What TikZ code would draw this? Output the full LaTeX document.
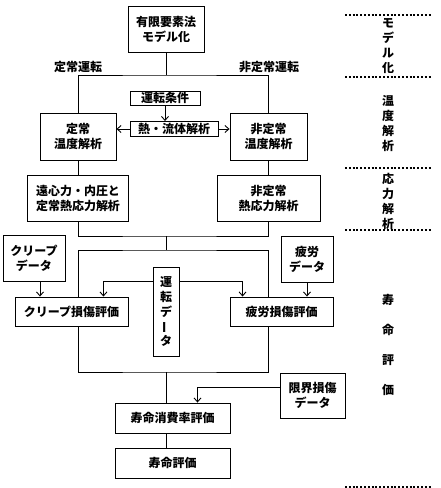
\documentclass[tikz,border=0pt]{standalone}
\usepackage{fontspec}
\setmainfont{Noto Sans CJK JP}
\usetikzlibrary{arrows.meta}

\newcommand{\boxfont}{\fontsize{12}{15}\selectfont\bfseries}
\newcommand{\tallfont}{\fontsize{12}{14.75}\selectfont\bfseries}
\newcommand{\wideskip}{\fontsize{12}{30}\selectfont\bfseries}

\begin{document}
\begin{tikzpicture}[x=1pt, y=-1pt, line width=0.9pt,
    box/.style={draw, inner sep=0pt, align=center, font=\boxfont},
    lbl/.style={inner sep=0pt, align=center, font=\boxfont},
    flow/.style={-{Straight Barb[length=4pt, width=7pt]}},
    sep/.style={dash pattern=on 2pt off 1.8pt, line width=1.3pt}]
    \useasboundingbox (0,0) rectangle (441,488);

    % Modelling
    \node[box, minimum width=76pt, minimum height=46pt] (model) at (166,29) {有限要素法\\モデル化};
    \node[lbl] (steadyLbl) at (78,67) {定常運転};
    \node[lbl] (transLbl) at (269,67) {非定常運転};

    % Temperature analysis
    \node[box, minimum width=76pt, minimum height=47pt] (steadyT) at (78,136.5) {定常\\温度解析};
    \node[box, minimum width=77pt, minimum height=47pt] (transT) at (268.5,136.5) {非定常\\温度解析};
    \node[box, minimum width=70pt, minimum height=14pt] (cond) at (165,98) {運転条件};
    \node[box, minimum width=88pt, minimum height=15pt] (fluid) at (174,129) {熱・流体解析};

    \coordinate (split) at (166,75);
    \draw (model.south) -- (split);
    \draw (steadyT.north) |- (split) -| (transT.north);
    \draw[flow] (cond.south) -- (cond.south |- fluid.north);
    \draw[flow] (fluid.west) -- (fluid.west -| steadyT.east);
    \draw[flow] (fluid.east) -- (fluid.east -| transT.west);

    % Stress analysis
    \node[box, minimum width=101pt, minimum height=46pt] (steadyS) at (78,198) {遠心力・内圧と\\定常熱応力解析};
    \node[box, minimum width=103pt, minimum height=46pt] (transS) at (268.5,198) {非定常\\熱応力解析};
    \draw (steadyT.south) -- (steadyS.north);
    \draw (transT.south) -- (transS.north);

    % Damage evaluation
    \node[box, minimum width=62pt, minimum height=46pt] (creepD) at (34,258) {クリープ\\データ};
    \node[box, minimum width=52pt, minimum height=46pt] (fatD) at (307,259) {疲労\\データ};
    \node[box, minimum width=113pt, minimum height=29pt] (creepE) at (71.5,311.5) {クリープ損傷評価};
    \node[box, minimum width=103pt, minimum height=29pt] (fatE) at (281.5,311.5) {疲労損傷評価};
    \node[box, minimum width=26pt, minimum height=89pt, font=\tallfont] (opD) at (166,311.5)
        {運\\転\\デ\\\rotatebox[origin=c]{90}{ー}\\タ};

    \coordinate (merge) at (166,236);
    \coordinate (fork) at (166,250);
    \draw (steadyS.south) |- (merge) -| (transS.south);
    \draw (merge) -- (fork);
    \draw (steadyS.south |- creepE.north) |- (fork) -| (transS.south |- fatE.north);
    \draw[flow] ([xshift=6pt]creepD.south) -- ([xshift=6pt]creepD.south |- creepE.north);
    \draw[flow] (fatD.south) -- (fatD.south |- fatE.north);
    \draw[flow] ([yshift=-15pt]opD.north west) -| ([xshift=-25pt]creepE.north east);
    \draw[flow] ([yshift=-15pt]opD.north east) -| ([xshift=13pt]fatE.north west);

    % Life evaluation
    \node[box, minimum width=115pt, minimum height=30pt] (rate) at (172.5,418) {寿命消費率評価};
    \node[box, minimum width=115pt, minimum height=30pt] (life) at (172.5,463) {寿命評価};
    \node[box, minimum width=65pt, minimum height=45pt] (limit) at (312.5,395.5) {限界損傷\\データ};

    \coordinate (join) at (166,372);
    \draw (steadyS.south |- creepE.south) |- (join) -| (transS.south |- fatE.south);
    \draw (join) -- (join |- rate.north);
    \draw (join |- rate.south) -- (join |- life.north);
    \draw[flow] ([yshift=-15pt]limit.north west) -| ([xshift=25pt]rate.north);

    % Phase column
    \foreach \y in {15,77,168,230,487}
        \draw[sep] (345,\y) -- (432,\y);
    \node[lbl] (phModel) at (388,46) {モ\\デ\\ル\\化};
    \node[lbl] (phTemp) at (388,123.5) {温\\度\\解\\析};
    \node[lbl] (phStress) at (388,201) {応\\力\\解\\析};
    \node[lbl, font=\wideskip] (phLife) at (388,345) {寿\\命\\評\\価};
\end{tikzpicture}
\end{document}
